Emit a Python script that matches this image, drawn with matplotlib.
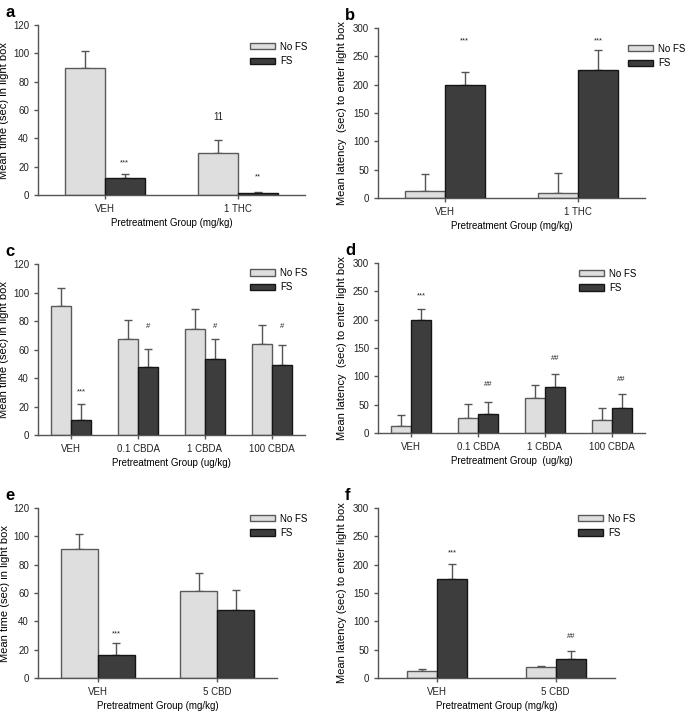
import numpy as np
import matplotlib
matplotlib.use("Agg")
import matplotlib.pyplot as plt

plt.rcParams["font.family"] = ["Liberation Sans", "DejaVu Sans"]

# panel a: time in light box, THC
a_groups = ["VEH", "1 THC"]
a_nofs = [90, 30]
a_nofs_err = [12, 8.5]
a_fs = [12, 1.5]
a_fs_err = [3, 0.6]

# panel b: latency, THC
b_groups = ["VEH", "1 THC"]
b_nofs = [12, 9.5]
b_nofs_err = [30, 35]
b_fs = [200, 226]
b_fs_err = [23, 35]

# panel c: time in light box, CBDA
c_groups = ["VEH", "0.1 CBDA", "1 CBDA", "100 CBDA"]
c_nofs = [90.5, 67.5, 74.5, 64]
c_nofs_err = [12.5, 13.5, 14, 13.5]
c_fs = [10.5, 47.5, 53.5, 49]
c_fs_err = [11, 13, 14, 14]

# panel d: latency, CBDA
d_groups = ["VEH", "0.1 CBDA", "1 CBDA", "100 CBDA"]
d_nofs = [12.5, 26.5, 61, 23]
d_nofs_err = [20, 24, 23.5, 22]
d_fs = [199.5, 33.5, 81.5, 44.5]
d_fs_err = [19, 22, 23.5, 25]

# panel e: time in light box, CBD
e_groups = ["VEH", "5 CBD"]
e_nofs = [90.8, 61.4]
e_nofs_err = [11, 12.6]
e_fs = [16.3, 48.2]
e_fs_err = [8.7, 13.7]

# panel f: latency, CBD
f_groups = ["VEH", "5 CBD"]
f_nofs = [12.5, 19]
f_nofs_err = [3.5, 3]
f_fs = [174, 33.5]
f_fs_err = [27, 14.5]

# significance marks: (group index, series, y, text)
a_marks = [(0, 1, 23, "***"), (1, 0, 55, "11"), (1, 1, 13, "**")]
b_marks = [(0, 1, 278, "***"), (1, 1, 278, "***")]
c_marks = [(0, 1, 30, "***"), (1, 1, 76, "#"), (2, 1, 76, "#"), (3, 1, 76, "#")]
d_marks = [(0, 1, 242, "***"), (1, 1, 86, "##"), (2, 1, 132, "##"), (3, 1, 95, "##")]
e_marks = [(0, 1, 31, "***")]
f_marks = [(0, 1, 221, "***"), (1, 1, 73, "##")]

LIGHT = "#dedede"
DARK = "#3d3d3d"
EDGE_L = "#5a5a5a"
EDGE_D = "#151515"
FS = 7


def panel(rect, letter, groups, nofs, nofs_err, fs, fs_err, marks,
          ymax, ystep, ylabel, xlabel, width, leg_anchor, ylab_x):
    ax = fig.add_axes(rect)
    x = np.arange(len(groups))
    ax.bar(x - width / 2, nofs, width, color=LIGHT, edgecolor=EDGE_L,
           linewidth=1.0, label="No FS", zorder=2)
    ax.bar(x + width / 2, fs, width, color=DARK, edgecolor=EDGE_D,
           linewidth=1.0, label="FS", zorder=2)
    ax.errorbar(x - width / 2, nofs, yerr=[np.zeros(len(x)), nofs_err],
                fmt="none", ecolor="#555555", elinewidth=1, capsize=3,
                capthick=1, zorder=1)
    ax.errorbar(x + width / 2, fs, yerr=[np.zeros(len(x)), fs_err],
                fmt="none", ecolor="#555555", elinewidth=1, capsize=3,
                capthick=1, zorder=1)
    for gi, si, yv, txt in marks:
        xp = gi + (width / 2 if si == 1 else -width / 2)
        size = 7 if txt == "11" else 5.5
        ax.text(xp, yv, txt, ha="center", va="center", fontsize=size,
                color="#222222")
    ax.set_xlim(-0.5, len(groups) - 0.5)
    ax.set_ylim(0, ymax)
    ax.set_yticks(np.arange(0, ymax + 1, ystep))
    ax.set_xticks(x)
    ax.set_xticklabels(groups)
    ax.tick_params(labelsize=FS, length=3, width=1, color="#555555",
                   labelcolor="#222222")
    for s in ["top", "right"]:
        ax.spines[s].set_visible(False)
    for s in ["left", "bottom"]:
        ax.spines[s].set_color("#555555")
        ax.spines[s].set_linewidth(1)
    ax.set_ylabel(ylabel, fontsize=8)
    ax.yaxis.set_label_coords(ylab_x, 0.5)
    ax.set_xlabel(xlabel, fontsize=FS, labelpad=3)
    ax.legend(loc="upper left", bbox_to_anchor=leg_anchor, frameon=False,
              fontsize=FS, handlelength=2.6, handleheight=0.6,
              handletextpad=0.5, labelspacing=0.45, borderaxespad=0)
    fig.text(rect[0] - 0.048, rect[1] + rect[3] + 0.011, letter,
             fontsize=12, fontweight="bold", va="baseline", ha="left")
    return ax


fig = plt.figure(figsize=(6.85, 7.13), dpi=100)

time_lab = "Mean time (sec) in light box"
lat_lab = "Mean latency  (sec) to enter light box"

panel([0.0555, 0.7265, 0.3898, 0.2384], "a", a_groups, a_nofs, a_nofs_err,
      a_fs, a_fs_err, a_marks, 120, 20, time_lab,
      "Pretreatment Group (mg/kg)", 0.3, (0.78, 0.925), -0.107)
panel([0.5518, 0.7223, 0.3898, 0.2384], "b", b_groups, b_nofs, b_nofs_err,
      b_fs, b_fs_err, b_marks, 300, 50, lat_lab,
      "Pretreatment Group (mg/kg)", 0.3, (0.921, 0.93), -0.116)
panel([0.0555, 0.3899, 0.3898, 0.2398], "c", c_groups, c_nofs, c_nofs_err,
      c_fs, c_fs_err, c_marks, 120, 20, time_lab,
      "Pretreatment Group (ug/kg)", 0.3, (0.78, 1.0), -0.107)
panel([0.5518, 0.3927, 0.3898, 0.2384], "d", d_groups, d_nofs, d_nofs_err,
      d_fs, d_fs_err, d_marks, 300, 50, lat_lab,
      "Pretreatment Group  (ug/kg)", 0.3, (0.738, 0.99), -0.116)
panel([0.0555, 0.0491, 0.3489, 0.2384], "e", e_groups, e_nofs, e_nofs_err,
      e_fs, e_fs_err, e_marks, 120, 20, time_lab,
      "Pretreatment Group (mg/kg)", 0.31, (0.87, 0.99), -0.119)
panel([0.5518, 0.0491, 0.346, 0.2384], "f", f_groups, f_nofs, f_nofs_err,
      f_fs, f_fs_err, f_marks, 300, 50, "Mean latency (sec) to enter light box",
      "Pretreatment Group (mg/kg)", 0.254, (0.827, 0.99), -0.131)

fig.savefig("out.png", dpi=100)
